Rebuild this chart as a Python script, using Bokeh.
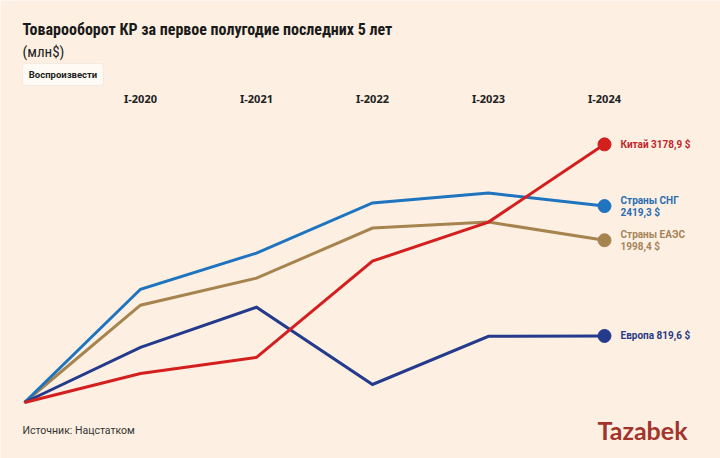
from bokeh.plotting import figure
from bokeh.models import Range1d, Label, BoxAnnotation, ColumnDataSource
from bokeh.embed import file_html
from bokeh.resources import INLINE

# ---- data ----
periods = ["I-2020", "I-2021", "I-2022", "I-2023", "I-2024"]
cis = [1395, 1840, 2457, 2580, 2419.3]
eaeu = [1198, 1531, 2148, 2222, 1998.4]
europe = [679, 1173, 222, 815, 819.6]
china = [358, 556, 1741, 2222, 3178.9]
start_value = 0

series_names = ["Страны ЕАЭС", "Страны СНГ", "Европа", "Китай"]
series_values = [eaeu, cis, europe, china]
end_labels = [["Страны ЕАЭС", "1998,4 $"], ["Страны СНГ", "2419,3 $"], ["Европа 819,6 $"], ["Китай 3178,9 $"]]
line_colors = ["#a6844f", "#1f74bf", "#243a8c", "#d41f1f"]
text_colors = ["#a6845a", "#2a6db3", "#283b84", "#c2262b"]

BG = "#fdf0e2"
W, H = 720, 458

p = figure(width=W, height=H, output_backend="svg", toolbar_location=None,
           x_range=Range1d(-1.2069, 5.0), y_range=Range1d(-689.7, 4950.7),
           x_axis_location=None, y_axis_location=None, min_border=0,
           background_fill_color=BG, border_fill_color=BG, outline_line_color=None)
p.xgrid.visible = False
p.ygrid.visible = False

xs = list(range(-1, len(periods)))
for vals, col in zip(series_values, line_colors):
    src = ColumnDataSource(dict(x=xs, y=[start_value] + vals))
    p.line("x", "y", source=src, line_color=col, line_width=3, line_join="miter")
for vals, col in zip(series_values, line_colors):
    p.scatter([len(periods) - 1], [vals[-1]], size=13, fill_color=col, line_color=col)

def sy(py):
    return H - py

def sx(px):
    return px

COND = "'Roboto Condensed', 'DejaVu Sans Condensed', Roboto"

# title, subtitle
p.add_layout(Label(x=sx(22), y=sy(29), x_units="screen", y_units="screen",
                   text="Товарооборот КР за первое полугодие последних 5 лет",
                   text_font=COND, text_font_style="bold",
                   text_font_size="16px", text_color="#1a1a1a", text_baseline="middle"))
p.add_layout(Label(x=sx(22), y=sy(51), x_units="screen", y_units="screen",
                   text="(млн$)", text_font=COND,
                   text_font_size="15px", text_color="#222222", text_baseline="middle"))

# button
p.add_layout(BoxAnnotation(left=sx(22), right=sx(103), top=sy(63), bottom=sy(85),
                           left_units="screen", right_units="screen",
                           top_units="screen", bottom_units="screen",
                           fill_color="#fffaf4", fill_alpha=1, line_color="#d9d2ca",
                           line_width=1, border_radius=3))
p.add_layout(Label(x=sx(62.5), y=sy(74), x_units="screen", y_units="screen",
                   text="Воспроизвести", text_font="Roboto", text_font_style="bold",
                   text_font_size="9.5px", text_color="#222222",
                   text_align="center", text_baseline="middle"))

# period labels on top
for i, lbl in enumerate(periods):
    p.add_layout(Label(x=i, y=sy(98), x_units="data", y_units="screen", text=lbl,
                       text_font="Noto Sans", text_font_style="bold", text_font_size="11px",
                       text_color="#222222", text_align="center", text_baseline="middle"))

# end labels
for vals, lines, col in zip(series_values, end_labels, text_colors):
    n = len(lines)
    for k, t in enumerate(lines):
        off = (k - (n - 1) / 2) * 12
        p.add_layout(Label(x=len(periods) - 1, y=vals[-1], x_offset=16, y_offset=-off,
                           text=t, text_font="Roboto", text_font_style="bold",
                           text_font_size="10px", text_color=col, text_baseline="middle"))

# source and logo
p.add_layout(Label(x=sx(22), y=sy(430), x_units="screen", y_units="screen",
                   text="Источник: Нацстатком", text_font="Roboto",
                   text_font_size="10.5px", text_color="#333333", text_baseline="middle"))
p.add_layout(Label(x=sx(642), y=sy(429), x_units="screen", y_units="screen",
                   text="Tazabek", text_font="Lato", text_font_style="bold",
                   text_font_size="25px", text_color="#a3332b",
                   text_align="center", text_baseline="middle"))

html = file_html(p, INLINE)
html = html.replace("<body>", '<body style="background-color:%s;">' % BG, 1)
open("out.html", "w").write(html)
